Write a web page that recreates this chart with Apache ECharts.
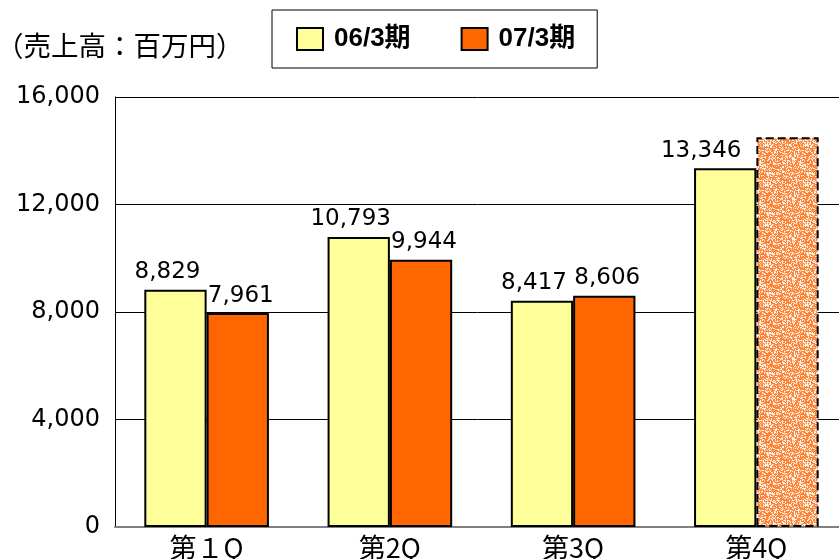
<!DOCTYPE html>
<html>
<head>
<meta charset="utf-8">
<script src="https://cdn.jsdelivr.net/npm/echarts@6/dist/echarts.min.js"></script>
<style>
  html, body { margin: 0; padding: 0; background: #fff; }
  #main { width: 839px; height: 559px; }
</style>
</head>
<body>
<div id="main"></div>
<script>
var categories = ['第１Q', '第2Q', '第3Q', '第4Q'];
var seriesNames = ['06/3期', '07/3期'];
var sales06 = [8829, 10793, 8417, 13346];
var sales07 = [7961, 9944, 8606];
var forecast07 = 14500; // 4Q forecast bar, no label
var yTicks = [0, 4000, 8000, 12000, 16000];

// speckled orange texture for the forecast bar
function makeTexture() {
  var n = 40;
  var c = document.createElement('canvas');
  c.width = n; c.height = n;
  var ctx = c.getContext('2d');
  ctx.fillStyle = '#FF8436';
  ctx.fillRect(0, 0, n, n);
  for (var y = 0; y < n; y++) {
    for (var x = 0; x < n; x++) {
      var h = Math.sin(x * 12.9898 + y * 78.233) * 43758.5453;
      h = h - Math.floor(h);
      if (h < 0.25) {
        ctx.fillStyle = '#FFFFFF';
        ctx.fillRect(x, y, 1, 1);
      } else if (h < 0.45) {
        ctx.fillStyle = '#FFC8A0';
        ctx.fillRect(x, y, 1, 1);
      }
    }
  }
  return c;
}

var fmt = function (v) { return echarts.format.addCommas(v); };

// labels in the original sit a little off-centre so neighbours don't collide
var data06 = sales06.map(function (v, i) {
  return i === 3 ? { value: v, label: { offset: [-24, 0] } } : v;
});
var data07 = sales07.map(function (v) { return v; });
data07.push({
  value: forecast07,
  label: { show: false },
  itemStyle: {
    color: { image: makeTexture(), repeat: 'repeat' },
    borderType: 'dashed',
    borderColor: '#000'
  }
});

var myChart = echarts.init(document.getElementById('main'));
myChart.setOption({
  backgroundColor: '#fff',
  animation: false,
  title: {
    text: '（売上高：百万円）',
    left: -9,
    top: 27,
    textStyle: { fontFamily: 'Noto Sans CJK JP', fontSize: 27.5, fontWeight: 'normal', color: '#000' }
  },
  legend: {
    data: seriesNames,
    left: 272,
    top: 10,
    padding: [16, 22, 16, 24],
    itemWidth: 26,
    itemHeight: 22,
    itemGap: 50,
    borderColor: '#000',
    borderWidth: 1,
    icon: 'rect',
    textStyle: {
      fontFamily: 'Liberation Sans, Noto Sans CJK JP',
      fontSize: 26,
      fontWeight: 'bold',
      color: '#000',
      padding: [0, 0, 0, 6]
    }
  },
  grid: { left: 115, right: -9, top: 97, bottom: 32, outerBoundsMode: 'none' },
  xAxis: {
    type: 'category',
    data: categories,
    axisLine: { lineStyle: { color: '#808080', width: 2 } },
    axisTick: { inside: true, length: 8, lineStyle: { color: '#000' } },
    axisLabel: {
      fontFamily: 'Noto Sans CJK JP',
      fontSize: 27,
      color: '#000',
      margin: 7
    }
  },
  yAxis: {
    type: 'value',
    min: yTicks[0],
    max: yTicks[yTicks.length - 1],
    interval: 4000,
    axisLine: { show: true, lineStyle: { color: '#000', width: 1 } },
    axisTick: { show: false },
    splitLine: { lineStyle: { color: '#000', width: 1 } },
    axisLabel: {
      fontFamily: 'DejaVu Sans',
      fontSize: 24,
      color: '#000',
      margin: 15,
      formatter: fmt
    }
  },
  series: [
    {
      name: seriesNames[0],
      type: 'bar',
      data: data06,
      barGap: '0%',
      barCategoryGap: '32%',
      itemStyle: { color: '#FFFF99', borderColor: '#000', borderWidth: 2 },
      label: {
        show: true, position: 'top', distance: 6, offset: [-8, 0],
        fontFamily: 'DejaVu Sans', fontSize: 23, color: '#000',
        formatter: function (p) { return fmt(p.value); }
      }
    },
    {
      name: seriesNames[1],
      type: 'bar',
      data: data07,
      itemStyle: { color: '#FF6600', borderColor: '#000', borderWidth: 2 },
      label: {
        show: true, position: 'top', distance: 6, offset: [3, 0],
        fontFamily: 'DejaVu Sans', fontSize: 23, color: '#000',
        formatter: function (p) { return fmt(p.value); }
      }
    }
  ]
});
</script>
</body>
</html>
